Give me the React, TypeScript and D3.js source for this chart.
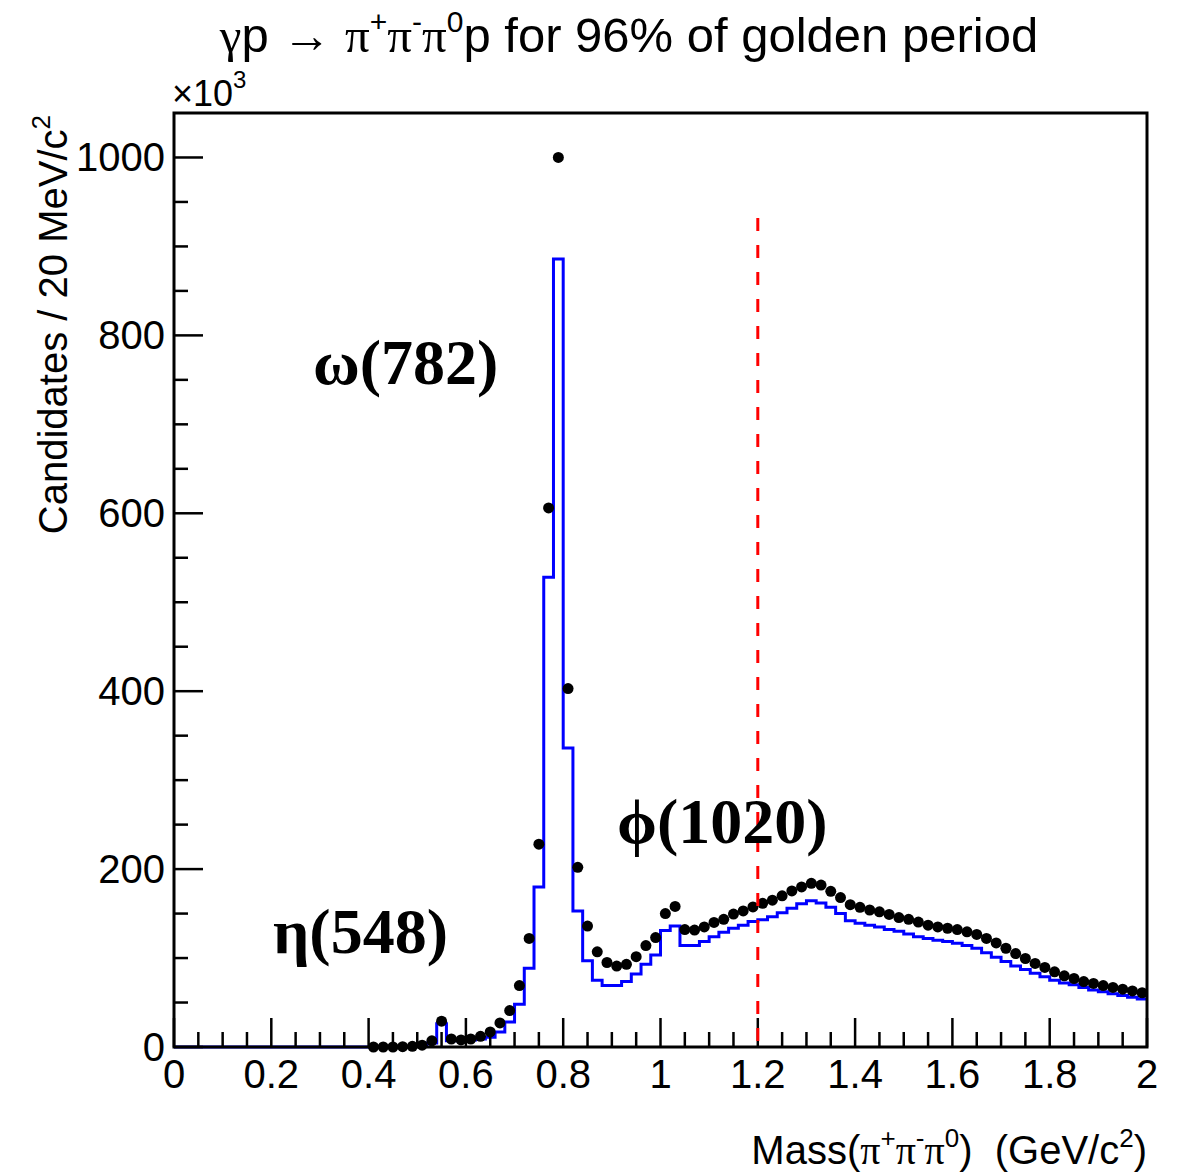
import React from "react";
import * as d3 from "d3";

const W = 1184;
const H = 1176;
const frame = { left: 174, right: 1147, top: 113, bottom: 1047 };

// axis ticks
const xMajorTicks = [0, 0.2, 0.4, 0.6, 0.8, 1, 1.2, 1.4, 1.6, 1.8, 2];
const xTickLabels = ["0", "0.2", "0.4", "0.6", "0.8", "1", "1.2", "1.4", "1.6", "1.8", "2"];
const yMajorTicks = [0, 200, 400, 600, 800, 1000];
const yTickLabels = ["0", "200", "400", "600", "800", "1000"];

// histogram (MC, blue): 20 MeV bins from 0 to 2 GeV, counts x10^3
const binWidth = 0.02;
const mcCounts = [
  0, 0, 0, 0, 0, 0, 0, 0, 0, 0,
  0, 0, 0, 0, 0, 0, 0, 0, 0, 0,
  0, 0, 0, 0, 0.5, 1.5, 4.5, 26, 7, 7,
  8, 9, 11, 17, 28, 48, 88.5, 180, 528, 886,
  336, 153, 97, 75, 69, 69, 73.5, 82, 93, 103.5,
  131, 136, 114, 114, 118.5, 124, 129, 133.5, 137, 141,
  143, 146.5, 151, 156, 161, 164.5, 162, 157, 150, 142,
  139, 137, 135, 132, 130, 127, 124, 122, 120, 118.5,
  116.5, 114, 111, 106, 101, 96, 91, 87, 83, 79,
  75, 72, 70, 67, 64, 62, 60, 58, 56, 54,
];

// data points (black): bin centres 0.41 ... 1.99, counts x10^3
const dataFirstCenter = 0.41;
const dataCounts = [
  0, 0, 0, 0.3, 0.8, 2, 7, 29, 9, 8,
  9, 12, 17, 27, 41, 69, 122, 228, 606, 1000,
  403, 202, 136, 107, 95, 91, 93, 101.5, 114, 123,
  150, 158, 132, 131.5, 135, 140, 143.5, 149.5, 153, 157.5,
  161.5, 165, 170, 175.5, 180, 184, 182, 175, 168, 160,
  157, 154, 152, 149, 145.5, 143.5, 140.5, 137, 135, 133.5,
  132, 129.5, 126.5, 122, 117, 111, 105, 99.5, 94, 89.5,
  84.5, 80, 77, 73.5, 71.5, 69, 67, 65, 63, 61,
];

const cutMass = 1.2;
const cutTop = 932;

export default function App() {
  const x = d3.scaleLinear().domain([0, 2]).range([frame.left, frame.right]);
  const y = d3.scaleLinear().domain([0, 1050]).range([frame.bottom, frame.top]);

  const xMinor = d3.range(0, 2.0001, 0.05).filter((v) => Math.abs(v / 0.2 - Math.round(v / 0.2)) > 1e-6);
  const yMinor = d3.range(0, 1050, 50).filter((v) => v % 200 !== 0);

  const steps: [number, number][] = [];
  mcCounts.forEach((c, i) => {
    steps.push([i * binWidth, c]);
    steps.push([(i + 1) * binWidth, c]);
  });
  const histPath = d3
    .line<[number, number]>()
    .x((d) => x(d[0]))
    .y((d) => y(d[1]))(steps) as string;

  const sans = "'Liberation Sans', Arial, Helvetica, sans-serif";
  const serif = "'Liberation Serif', 'Times New Roman', serif";
  const tickFs = 40;

  return (
    <div style={{ position: "absolute", left: 0, top: 0 }}>
      <svg width={W} height={H} viewBox={`0 0 ${W} ${H}`} style={{ display: "block", background: "#fff" }}>
        <rect x={0} y={0} width={W} height={H} fill="#fff" />

        {/* title */}
        <text x={629} y={52} textAnchor="middle" fontFamily={sans} fontSize={49} fill="#000">
          <tspan fontFamily={serif}>γ</tspan>
          <tspan>p → </tspan>
          <tspan fontFamily={serif}>π</tspan>
          <tspan fontSize={30} dy={-20}>+</tspan>
          <tspan fontFamily={serif} dy={20}>π</tspan>
          <tspan fontSize={30} dy={-20}>-</tspan>
          <tspan fontFamily={serif} dy={20}>π</tspan>
          <tspan fontSize={30} dy={-20}>0</tspan>
          <tspan dy={20}>p for 96% of golden period</tspan>
        </text>

        {/* x10^3 */}
        <text x={172} y={106} fontFamily={sans} fontSize={36} fill="#000">
          <tspan>×10</tspan>
          <tspan fontSize={24} dy={-18}>3</tspan>
        </text>

        {/* histogram */}
        <path d={histPath} fill="none" stroke="#0000ff" strokeWidth={3} />

        {/* data points */}
        {dataCounts.map((c, i) => (
          <circle key={i} cx={x(dataFirstCenter + i * binWidth)} cy={y(c)} r={5.5} fill="#000" />
        ))}

        {/* frame */}
        <rect
          x={frame.left}
          y={frame.top}
          width={frame.right - frame.left}
          height={frame.bottom - frame.top}
          fill="none"
          stroke="#000"
          strokeWidth={3}
        />

        {/* x ticks */}
        {xMajorTicks.map((t) => (
          <line key={"xM" + t} x1={x(t)} x2={x(t)} y1={frame.bottom} y2={frame.bottom - 29} stroke="#000" strokeWidth={2.5} />
        ))}
        {xMinor.map((t) => (
          <line key={"xm" + t} x1={x(t)} x2={x(t)} y1={frame.bottom} y2={frame.bottom - 15} stroke="#000" strokeWidth={2.5} />
        ))}
        {xMajorTicks.map((t, i) => (
          <text key={"xl" + t} x={x(t)} y={1088} textAnchor="middle" fontFamily={sans} fontSize={tickFs} fill="#000">
            {xTickLabels[i]}
          </text>
        ))}

        {/* y ticks */}
        {yMajorTicks.map((t) => (
          <line key={"yM" + t} x1={frame.left} x2={frame.left + 29} y1={y(t)} y2={y(t)} stroke="#000" strokeWidth={2.5} />
        ))}
        {yMinor.map((t) => (
          <line key={"ym" + t} x1={frame.left} x2={frame.left + 14} y1={y(t)} y2={y(t)} stroke="#000" strokeWidth={2.5} />
        ))}
        {yMajorTicks.map((t, i) => (
          <text key={"yl" + t} x={165} y={y(t) + 14} textAnchor="end" fontFamily={sans} fontSize={tickFs} fill="#000">
            {yTickLabels[i]}
          </text>
        ))}

        {/* cut line */}
        <line
          x1={x(cutMass)}
          x2={x(cutMass)}
          y1={y(cutTop)}
          y2={frame.bottom}
          stroke="#ff0000"
          strokeWidth={3}
          strokeDasharray="13 14"
        />

        {/* axis titles */}
        <text x={1147} y={1164} textAnchor="end" fontFamily={sans} fontSize={40} fill="#000">
          <tspan>Mass(</tspan>
          <tspan fontFamily={serif}>π</tspan>
          <tspan fontSize={26} dy={-17}>+</tspan>
          <tspan fontFamily={serif} dy={17}>π</tspan>
          <tspan fontSize={26} dy={-17}>-</tspan>
          <tspan fontFamily={serif} dy={17}>π</tspan>
          <tspan fontSize={26} dy={-17}>0</tspan>
          <tspan dy={17}>{")\u00a0\u00a0(GeV/c"}</tspan>
          <tspan fontSize={26} dy={-17}>2</tspan>
          <tspan dy={17}>)</tspan>
        </text>
        <text
          transform="translate(67,115) rotate(-90)"
          textAnchor="end"
          fontFamily={sans}
          fontSize={40}
          fill="#000"
        >
          <tspan>Candidates / 20 MeV/c</tspan>
          <tspan fontSize={26} dy={-17}>2</tspan>
        </text>

        {/* resonance labels */}
        <text x={313} y={384} fontFamily={serif} fontWeight="bold" fontSize={64} fill="#000">ω(782)</text>
        <text x={273} y={953} fontFamily={serif} fontWeight="bold" fontSize={64} fill="#000">η(548)</text>
        <text x={617} y={843} fontFamily={serif} fontWeight="bold" fontSize={64} fill="#000">ϕ(1020)</text>
      </svg>
    </div>
  );
}
